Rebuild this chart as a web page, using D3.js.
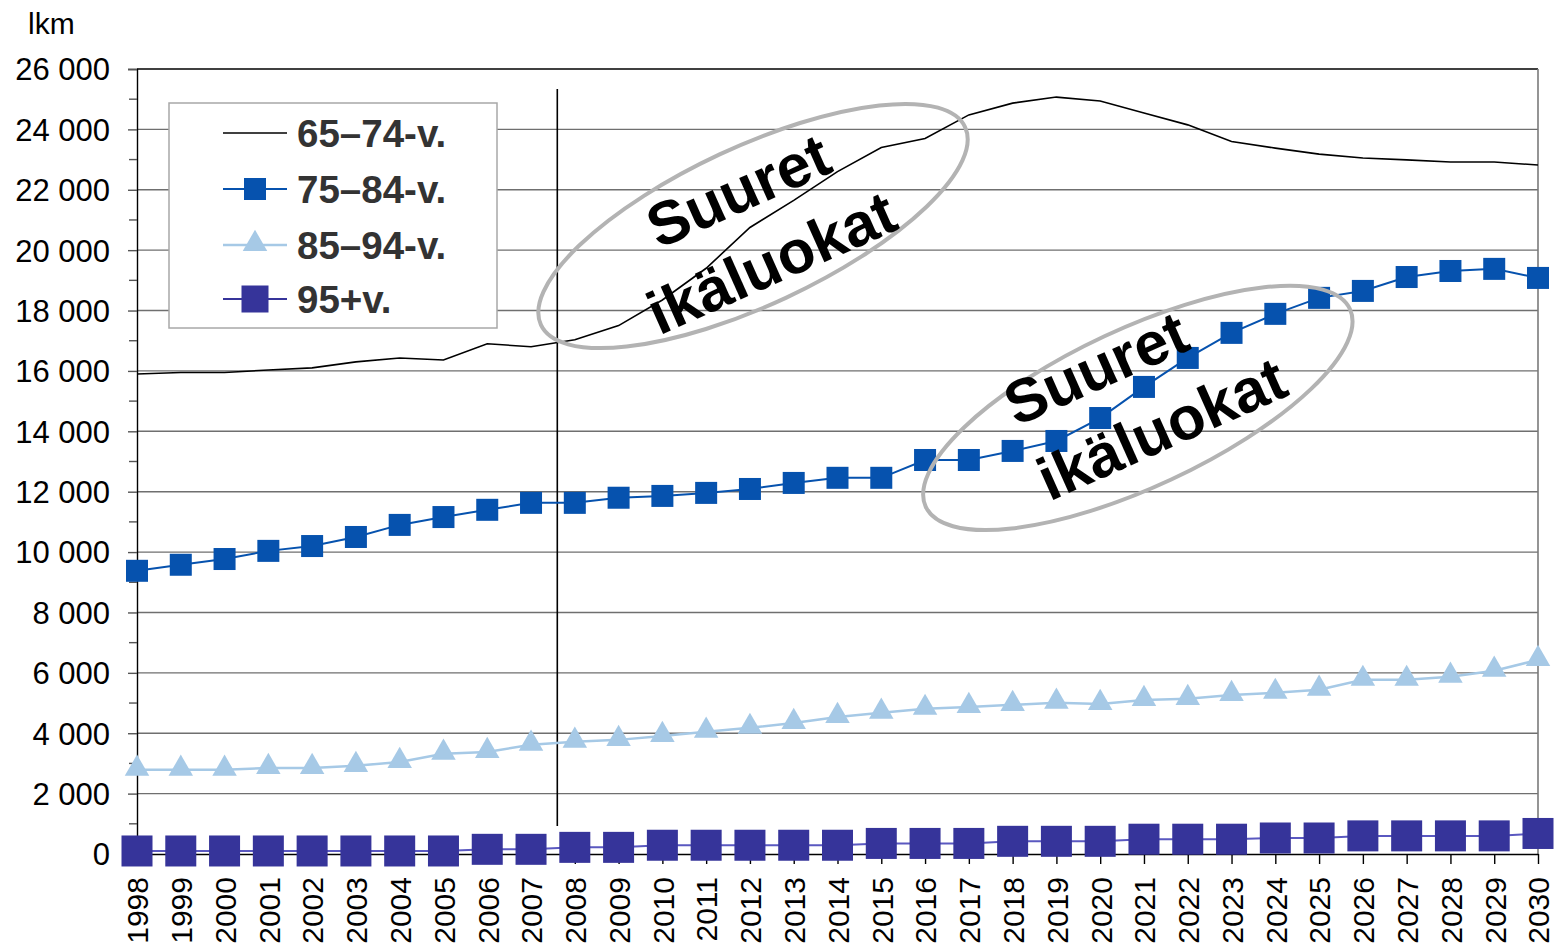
<!DOCTYPE html>
<html>
<head>
<meta charset="utf-8">
<script src="https://cdn.jsdelivr.net/npm/d3@7"></script>
<style>
  body { margin: 0; background: #fff; }
  svg { display: block; font-family: "Liberation Sans", Arial, sans-serif; }
</style>
</head>
<body>
<svg id="chart" width="1554" height="952"></svg>
<script>
// Years on the x axis
const years = d3.range(1998, 2031).map(String);

// Series values (persons)
const age65_74 = [15900, 15950, 15950, 16030, 16100, 16300, 16430, 16360, 16900, 16800,
  17030, 17500, 18350, 19400, 20750, 21650, 22600, 23400, 23700, 24480,
  24870, 25070, 24940, 24540, 24150, 23600, 23380, 23180, 23050, 22990,
  22920, 22920, 22820];
const age75_84 = [9380, 9580, 9770, 10040, 10200, 10500, 10900, 11160, 11400, 11630,
  11630, 11800, 11860, 11960, 12090, 12290, 12460, 12460, 13050, 13050,
  13350, 13680, 14440, 15470, 16430, 17260, 17890, 18420, 18650, 19110,
  19310, 19380, 19080];
const age85_94 = [2790, 2790, 2790, 2850, 2850, 2920, 3050, 3320, 3380, 3620,
  3720, 3780, 3910, 4050, 4180, 4340, 4540, 4680, 4810, 4870,
  4940, 5010, 4970, 5100, 5140, 5270, 5340, 5440, 5770, 5770,
  5870, 6070, 6430];
const age95 = [100, 100, 100, 100, 100, 100, 100, 100, 155, 155,
  220, 220, 290, 290, 290, 290, 290, 350, 350, 350,
  420, 420, 420, 490, 490, 490, 530, 530, 600, 600,
  600, 600, 680];

const yTicks = d3.range(0, 26001, 2000);
const yMinorTicks = d3.range(1000, 26000, 2000);

const seriesNames = ['65–74-v.', '75–84-v.', '85–94-v.', '95+v.'];

// annotations: [x index, value]
const ellipseCenters = [[14.07, 20800], [22.86, 14775]];
const labelLines = [
  { text: 'Suuret', at: [13.93, 21330] },
  { text: 'ikäluokat', at: [14.69, 18950] },
  { text: 'Suuret', at: [22.1, 15450] },
  { text: 'ikäluokat', at: [23.6, 13450] }
];
const dividerAt = 9.6; // between 2007 and 2008

const svg = d3.select('#chart');
const plotLeft = 137, plotRight = 1538, plotTop = 69, plotBottom = 854;

const x = d3.scalePoint().domain(years).range([plotLeft, plotRight]);
const xi = d3.scaleLinear().domain([0, years.length - 1]).range([plotLeft, plotRight]);
const y = d3.scaleLinear().domain([0, 26000]).range([plotBottom, plotTop]);

// gridlines
svg.append('g')
  .selectAll('line')
  .data(yTicks.filter(d => d > 0 && d < 26000))
  .enter().append('line')
  .attr('x1', plotLeft).attr('x2', plotRight)
  .attr('y1', d => y(d)).attr('y2', d => y(d))
  .attr('stroke', '#6f6f6f').attr('stroke-width', 1.4);

// top border and right border
svg.append('line').attr('x1', plotLeft).attr('x2', plotRight).attr('y1', plotTop).attr('y2', plotTop)
  .attr('stroke', '#000').attr('stroke-width', 1.4);
svg.append('line').attr('x1', plotRight).attr('x2', plotRight).attr('y1', plotTop).attr('y2', plotBottom)
  .attr('stroke', '#7a7a7a').attr('stroke-width', 1.6);

// Y axis
const yAxis = svg.append('g')
  .attr('transform', `translate(${plotLeft},0)`)
  .call(d3.axisLeft(y).tickValues(yTicks).tickSize(9).tickPadding(18)
    .tickFormat(d => d3.format(',')(d).replace(/,/g, ' ')));
yAxis.select('.domain').attr('stroke', '#000').attr('stroke-width', 1.4);
yAxis.selectAll('.tick line').attr('stroke', '#555').attr('stroke-width', 1.4);
yAxis.selectAll('.tick text').attr('font-size', 31).attr('fill', '#000')
  .attr('font-family', '"Liberation Sans", Arial, sans-serif').attr('dy', '0.35em');
svg.append('g').selectAll('line').data(yMinorTicks).enter().append('line')
  .attr('x1', plotLeft - 8).attr('x2', plotLeft).attr('y1', d => y(d)).attr('y2', d => y(d))
  .attr('stroke', '#555').attr('stroke-width', 1.4);

// X axis
const xAxis = svg.append('g')
  .attr('transform', `translate(0,${plotBottom})`)
  .call(d3.axisBottom(x).tickSize(10).tickSizeOuter(0));
xAxis.select('.domain').attr('stroke', '#000').attr('stroke-width', 1.6);
xAxis.selectAll('.tick line').attr('stroke', '#000').attr('stroke-width', 1.4);
xAxis.selectAll('.tick text')
  .attr('font-size', 30).attr('fill', '#000')
  .attr('font-family', '"Liberation Sans", Arial, sans-serif')
  .attr('text-anchor', 'end')
  .attr('transform', 'rotate(-90)')
  .attr('x', -23).attr('y', 0).attr('dy', '0.36em');

// unit label
svg.append('text').attr('x', 28).attr('y', 34).attr('font-size', 30).text('lkm');

// divider line
svg.append('line')
  .attr('x1', xi(dividerAt)).attr('x2', xi(dividerAt))
  .attr('y1', 89).attr('y2', 826)
  .attr('stroke', '#000').attr('stroke-width', 1.6);

const line = d3.line().x((d, i) => x(years[i])).y(d => y(d));

// 65–74
svg.append('path').datum(age65_74).attr('d', line)
  .attr('fill', 'none').attr('stroke', '#000').attr('stroke-width', 1.6);

// 75–84
svg.append('path').datum(age75_84).attr('d', line)
  .attr('fill', 'none').attr('stroke', '#0652ae').attr('stroke-width', 2);
svg.append('g').selectAll('rect').data(age75_84).enter().append('rect')
  .attr('x', (d, i) => x(years[i]) - 11).attr('y', d => y(d) - 11)
  .attr('width', 22).attr('height', 22).attr('fill', '#0652ae');

// 85–94
const tri = d3.symbol().type(d3.symbolTriangle).size(260);
svg.append('path').datum(age85_94).attr('d', line)
  .attr('fill', 'none').attr('stroke', '#a6c9e6').attr('stroke-width', 2.5);
svg.append('g').selectAll('path').data(age85_94).enter().append('path')
  .attr('d', tri)
  .attr('transform', (d, i) => `translate(${x(years[i])},${y(d) - 1})`)
  .attr('fill', '#a6c9e6');

// 95+
svg.append('path').datum(age95).attr('d', line)
  .attr('fill', 'none').attr('stroke', '#5a58c0').attr('stroke-width', 2);
svg.append('g').selectAll('rect').data(age95).enter().append('rect')
  .attr('x', (d, i) => x(years[i]) - 15.5).attr('y', d => y(d) - 15.5)
  .attr('width', 31).attr('height', 31).attr('fill', '#36349a');

// annotations
svg.append('g').selectAll('ellipse').data(ellipseCenters).enter().append('ellipse')
  .attr('cx', 0).attr('cy', 0).attr('rx', 234).attr('ry', 79)
  .attr('transform', d => `translate(${xi(d[0])},${y(d[1])}) rotate(-25)`)
  .attr('fill', 'none').attr('stroke', '#b3b3b3').attr('stroke-width', 4);
svg.append('g').selectAll('text').data(labelLines).enter().append('text')
  .attr('transform', d => `translate(${xi(d.at[0])},${y(d.at[1])}) rotate(-24)`)
  .attr('text-anchor', 'middle')
  .attr('font-size', 61).attr('font-weight', 'bold').attr('fill', '#000')
  .text(d => d.text);

// legend
const legend = svg.append('g');
legend.append('rect').attr('x', 169).attr('y', 103).attr('width', 328).attr('height', 225)
  .attr('fill', '#fff').attr('stroke', '#a8a8a8').attr('stroke-width', 1.5);
const rowY = [133, 189, 245, 299];
const legendStyles = [
  { stroke: '#000', width: 1.6, marker: null },
  { stroke: '#0652ae', width: 2, marker: 'sq', size: 22, fill: '#0652ae' },
  { stroke: '#a6c9e6', width: 2.5, marker: 'tri', fill: '#a6c9e6' },
  { stroke: '#36349a', width: 2, marker: 'sq', size: 27, fill: '#36349a' }
];
seriesNames.forEach((name, i) => {
  const s = legendStyles[i];
  const g = legend.append('g').attr('transform', `translate(0,${rowY[i]})`);
  g.append('line').attr('x1', 223).attr('x2', 287).attr('y1', 0).attr('y2', 0)
    .attr('stroke', s.stroke).attr('stroke-width', s.width);
  if (s.marker === 'sq') {
    g.append('rect').attr('x', 255 - s.size / 2).attr('y', -s.size / 2)
      .attr('width', s.size).attr('height', s.size).attr('fill', s.fill);
  } else if (s.marker === 'tri') {
    g.append('path').attr('d', tri).attr('transform', 'translate(255,-1)').attr('fill', s.fill);
  }
  g.append('text').attr('x', 297).attr('y', 14)
    .attr('font-size', 38.5).attr('font-weight', 'bold').attr('fill', '#333')
    .text(name);
});
</script>
</body>
</html>
